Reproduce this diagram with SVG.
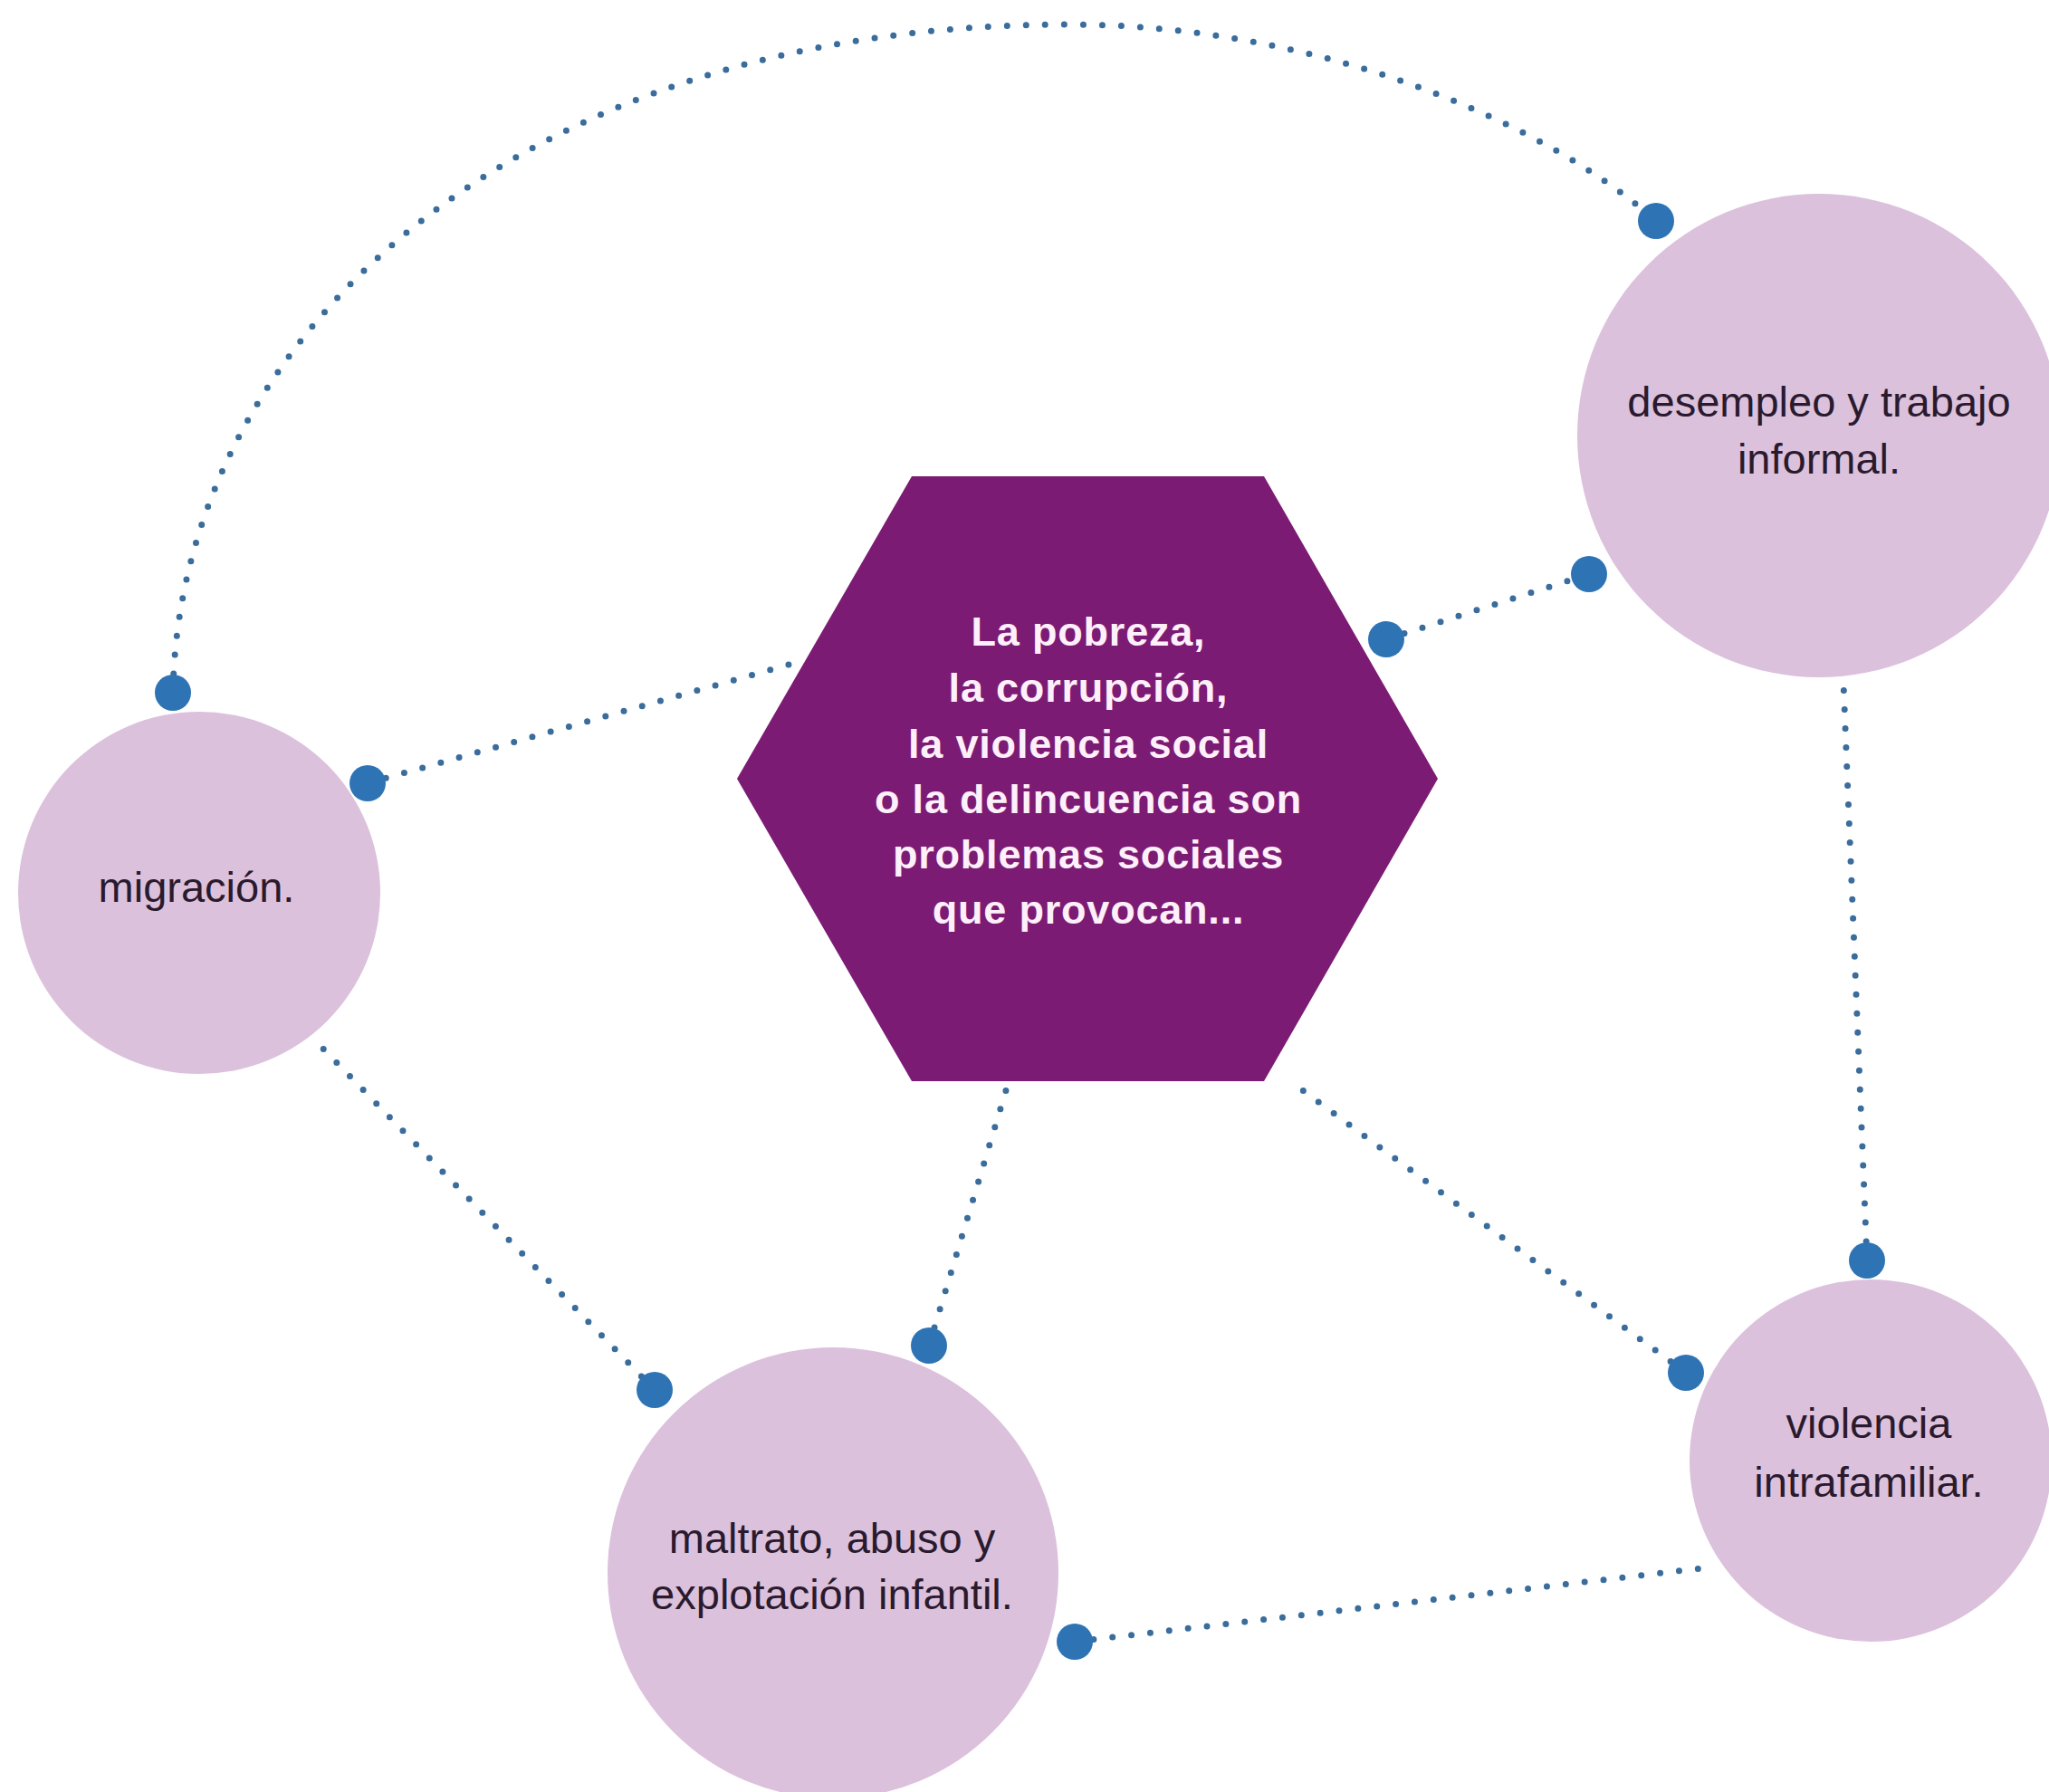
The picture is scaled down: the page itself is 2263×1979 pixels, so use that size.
<svg xmlns="http://www.w3.org/2000/svg" width="2263" height="1979" viewBox="0 0 2263 1979">
<style>
.bg{fill:#ffffff}
.circ{fill:#dcc1dc}
.hex{fill:#7c1b73}
.lbl{font-family:"Liberation Sans",Arial,sans-serif;font-size:47px;fill:#2a1a2e;text-anchor:middle}
.hlbl{font-family:"Liberation Sans",Arial,sans-serif;font-size:45px;font-weight:bold;letter-spacing:0.8px;fill:#fdf0fb;text-anchor:middle}
.dl{fill:none;stroke:#3a6c9c;stroke-width:7;stroke-linecap:round;stroke-dasharray:0 21}
.end{fill:#2e74b5}
</style>
<rect class="bg" x="0" y="0" width="2263" height="1979"/>
<g id="hexagono">
<polygon class="hex" points="1007,526 1396,526 1588,860 1396,1194 1007,1194 814,860"/>
<text class="hlbl" x="1202" y="713">La pobreza,</text>
<text class="hlbl" x="1202" y="775">la corrupción,</text>
<text class="hlbl" x="1202" y="837">la violencia social</text>
<text class="hlbl" x="1202" y="898">o la delincuencia son</text>
<text class="hlbl" x="1202" y="959">problemas sociales</text>
<text class="hlbl" x="1202" y="1020">que provocan...</text>
</g>
<g id="desempleo">
<circle class="circ" cx="2009" cy="481" r="267"/>
<text class="lbl" x="2009" y="460">desempleo y trabajo</text>
<text class="lbl" x="2009" y="523">informal.</text>
</g>
<g id="migracion">
<circle class="circ" cx="220" cy="986" r="200"/>
<text class="lbl" x="217" y="996">migración.</text>
</g>
<g id="maltrato">
<circle class="circ" cx="920" cy="1737" r="249"/>
<text class="lbl" x="919" y="1715">maltrato, abuso y</text>
<text class="lbl" x="919" y="1777">explotación infantil.</text>
</g>
<g id="violencia">
<circle class="circ" cx="2066" cy="1613" r="200"/>
<text class="lbl" x="2064" y="1588">violencia</text>
<text class="lbl" x="2064" y="1653">intrafamiliar.</text>
</g>
<g id="conectores">
<path class="dl" d="M191,765 C198,380 560,27 1180,27 C1450,27 1700,130 1829,244"/>
<path class="dl" d="M406,865 L882,731"/>
<path class="dl" d="M1531,706 L1755,634"/>
<path class="dl" d="M2062,1392 L2036,754"/>
<path class="dl" d="M1026,1486 L1112,1201"/>
<path class="dl" d="M1862,1516 L1429,1197"/>
<path class="dl" d="M723,1535 L350,1151"/>
<path class="dl" d="M1187,1813 L1896,1730"/>
<circle class="end" cx="191" cy="765" r="20"/>
<circle class="end" cx="1829" cy="244" r="20"/>
<circle class="end" cx="406" cy="865" r="20"/>
<circle class="end" cx="1531" cy="706" r="20"/>
<circle class="end" cx="1755" cy="634" r="20"/>
<circle class="end" cx="2062" cy="1392" r="20"/>
<circle class="end" cx="1026" cy="1486" r="20"/>
<circle class="end" cx="1862" cy="1516" r="20"/>
<circle class="end" cx="723" cy="1535" r="20"/>
<circle class="end" cx="1187" cy="1813" r="20"/>
</g>
</svg>
